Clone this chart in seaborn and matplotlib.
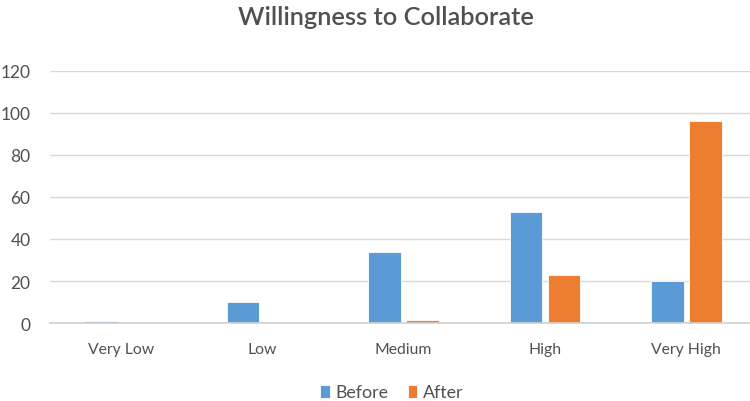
import matplotlib
matplotlib.use("Agg")
import matplotlib.pyplot as plt
import seaborn as sns
import pandas as pd

categories = ["Very Low", "Low", "Medium", "High", "Very High"]
before = [1, 10, 34, 53, 20]
after = [0, 0, 1.5, 23, 96]
series_names = ["Before", "After"]
y_ticks = [0, 20, 40, 60, 80, 100, 120]

df = pd.DataFrame({
    "Level": categories * 2,
    "Value": before + after,
    "Series": [series_names[0]] * len(categories) + [series_names[1]] * len(categories),
})

sns.set_theme(style="white")
plt.rcParams["font.family"] = ["Lato", "DejaVu Sans"]

text_color = "#505050"
palette = {"Before": "#5B9BD5", "After": "#ED7D31"}

fig = plt.figure(figsize=(7.5, 4.02), dpi=100)
ax = fig.add_axes([0.0667, 0.194, 0.9333, 0.627])

sns.barplot(data=df, x="Level", y="Value", hue="Series", order=categories,
            hue_order=series_names, palette=palette, width=0.54, gap=0.15,
            saturation=1, edgecolor="#ffffff", linewidth=0.6, ax=ax)

ax.set_ylim(0, 120)
ax.set_xlim(-0.5, 4.45)
ax.set_yticks(y_ticks)
ax.yaxis.grid(True, color="#D9D9D9", linewidth=1)
ax.set_axisbelow(True)
for s in ["top", "right", "left"]:
    ax.spines[s].set_visible(False)
ax.spines["bottom"].set_color("#D0D0D0")
ax.spines["bottom"].set_linewidth(1.2)
ax.set_xlabel("")
ax.set_ylabel("")
ax.tick_params(axis="both", length=0, colors=text_color)
ax.tick_params(axis="x", pad=14, labelsize=11.3)
ax.tick_params(axis="y", pad=14, labelsize=12.5)

fig.suptitle("Willingness to Collaborate", x=0.515, y=0.985,
             fontsize=18.3, color=text_color, fontweight="semibold")

handles, labels = ax.get_legend_handles_labels()
ax.legend(handles, labels, loc="lower center", bbox_to_anchor=(0.488, -0.37),
          ncol=2, frameon=False, fontsize=12.8, labelcolor=text_color,
          handlelength=0.55, handleheight=0.75, handletextpad=0.3,
          columnspacing=1.1)

fig.savefig("out.png", dpi=100)
